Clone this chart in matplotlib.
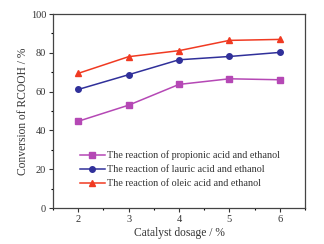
import matplotlib
matplotlib.use("Agg")
import matplotlib.pyplot as plt
from matplotlib.ticker import MultipleLocator

plt.rcParams['font.family'] = ['Liberation Serif', 'DejaVu Serif']

dosage = [2, 3, 4, 5, 6]
propionic = [44.7, 53.0, 63.7, 66.6, 66.1]
lauric = [61.1, 68.7, 76.4, 78.1, 80.2]
oleic = [69.4, 78.0, 81.1, 86.4, 86.9]
labels = ["The reaction of propionic acid and ethanol",
          "The reaction of lauric acid and ethanol",
          "The reaction of oleic acid and ethanol"]

fig = plt.figure(figsize=(3.24, 2.44), dpi=100)
ax = fig.add_axes([53/324, 1-208/244, (305-53)/324, (208-14)/244])

ax.plot(dosage, propionic, '-s', color='#b548b5', ms=4, lw=1.1, label=labels[0])
ax.plot(dosage, lauric, '-o', color='#30309a', ms=4, lw=1.1, label=labels[1])
ax.plot(dosage, oleic, '-^', color='#f03a22', ms=4.5, lw=1.1, label=labels[2])

ax.set_xlim(1.5, 6.5)
ax.set_ylim(0, 100)
ax.xaxis.set_major_locator(MultipleLocator(1))
ax.xaxis.set_minor_locator(MultipleLocator(0.5))
ax.yaxis.set_major_locator(MultipleLocator(20))
ax.yaxis.set_minor_locator(MultipleLocator(10))
ax.tick_params(which='major', direction='out', length=3, width=0.8, labelsize=7.5, pad=2, colors='#333333')
ax.tick_params(which='minor', direction='out', length=1.5, width=0.8)
for s in ax.spines.values():
    s.set_linewidth(0.9)
    s.set_color('#444444')

ax.set_xlabel("Catalyst dosage / %", fontsize=8.3, labelpad=2, color='#333333')
ax.set_ylabel("Conversion of RCOOH / %", fontsize=8.3, labelpad=1, color='#333333')

leg = ax.legend(loc='lower left', bbox_to_anchor=(0.09, 0.08), frameon=False, fontsize=7.3,
                handlelength=2.5, handletextpad=0.2, labelspacing=0.5, borderaxespad=0)
for t in leg.get_texts():
    t.set_color('#333333')

fig.savefig("out.png", dpi=100)
